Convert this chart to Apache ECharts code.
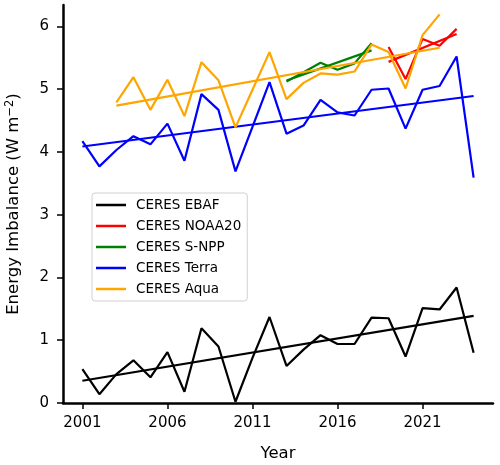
<!DOCTYPE html>
<html>
<head>
<meta charset="utf-8">
<script src="https://cdn.jsdelivr.net/npm/echarts@6/dist/echarts.min.js"></script>
<style>
  html, body { margin: 0; padding: 0; background: #fff; }
  #main { width: 500px; height: 465px; }
</style>
</head>
<body>
<div id="main"></div>
<script>
// values
const years = [2001, 2002, 2003, 2004, 2005, 2006, 2007, 2008, 2009, 2010, 2011, 2012,
  2013, 2014, 2015, 2016, 2017, 2018, 2019, 2020, 2021, 2022, 2023, 2024];
const ebaf = [0.54, 0.14, 0.46, 0.68, 0.41, 0.81, 0.18, 1.19, 0.90, 0.02, 0.72, 1.37,
  0.59, 0.85, 1.08, 0.94, 0.94, 1.36, 1.35, 0.74, 1.51, 1.49, 1.84, 0.80];
const terra = [4.17, 3.77, 4.03, 4.25, 4.12, 4.45, 3.86, 4.92, 4.67, 3.69, 4.40, 5.11,
  4.29, 4.42, 4.83, 4.63, 4.58, 4.99, 5.01, 4.37, 4.99, 5.05, 5.52, 3.59];
const aquaYears = [2003, 2004, 2005, 2006, 2007, 2008, 2009, 2010, 2011, 2012,
  2013, 2014, 2015, 2016, 2017, 2018, 2019, 2020, 2021, 2022];
const aqua = [4.79, 5.19, 4.67, 5.15, 4.57, 5.43, 5.14, 4.39, 4.99, 5.59,
  4.84, 5.10, 5.25, 5.23, 5.28, 5.71, 5.59, 5.01, 5.86, 6.19];
const snppYears = [2013, 2014, 2015, 2016, 2017, 2018];
const snpp = [5.12, 5.27, 5.42, 5.31, 5.41, 5.73];
const noaaYears = [2019, 2020, 2021, 2022, 2023];
const noaa20 = [5.67, 5.16, 5.80, 5.69, 5.96];

const xTicks = [2001, 2006, 2011, 2016, 2021];
const yTicks = [0, 1, 2, 3, 4, 5, 6];

const FONT = "DejaVu Sans";

function pairs(xs, ys) {
  return xs.map((x, i) => [x, ys[i]]);
}

// least squares trend, drawn between first and last year
function trend(xs, ys) {
  const n = xs.length;
  const mx = xs.reduce((a, b) => a + b, 0) / n;
  const my = ys.reduce((a, b) => a + b, 0) / n;
  let sxy = 0, sxx = 0;
  for (let i = 0; i < n; i++) {
    sxy += (xs[i] - mx) * (ys[i] - my);
    sxx += (xs[i] - mx) * (xs[i] - mx);
  }
  const k = sxy / sxx;
  return [[xs[0], my + k * (xs[0] - mx)], [xs[n - 1], my + k * (xs[n - 1] - mx)]];
}

function line(name, data, color) {
  return {
    name: name,
    type: "line",
    data: data,
    showSymbol: false,
    symbol: "none",
    color: color,
    lineStyle: { color: color, width: 2.2 },
    animation: false,
    silent: true,
  };
}

const myChart = echarts.init(document.getElementById("main"));
const option = {
  animation: false,
  grid: { left: 63, right: 7, top: 5, bottom: 62, outerBoundsMode: "none" },
  legend: {
    data: ["CERES EBAF", "CERES NOAA20", "CERES S-NPP", "CERES Terra", "CERES Aqua"],
    orient: "vertical",
    left: 92,
    top: 193,
    icon: "rect",
    itemWidth: 30,
    itemHeight: 2.5,
    itemGap: 7,
    padding: [5, 6, 5, 4],
    borderColor: "#d0d0d0",
    borderWidth: 1,
    borderRadius: 3,
    backgroundColor: "rgba(255,255,255,0.8)",
    textStyle: { fontFamily: FONT, fontSize: 13.5, color: "#000", padding: [0, 0, 0, 5] },
  },
  xAxis: {
    type: "value",
    min: 1999.86,
    max: 2025.14,
    name: "Year",
    nameLocation: "middle",
    nameGap: 42,
    nameTextStyle: { fontFamily: FONT, fontSize: 16.5, color: "#000" },
    splitLine: { show: false },
    axisLine: { onZero: false, lineStyle: { color: "#000", width: 2.5 } },
    axisTick: { show: true, length: 6, lineStyle: { color: "#000", width: 1.5 }, customValues: xTicks },
    axisLabel: {
      fontFamily: FONT, fontSize: 15, color: "#000", margin: 13, customValues: xTicks,
      formatter: (v) => String(v),
    },
  },
  yAxis: {
    type: "value",
    min: 0,
    max: 6.34,
    name: "{a|Energy Imbalance (W m}{s|−2}{a|)}",
    nameLocation: "middle",
    nameGap: 40,
    nameTextStyle: {
      fontFamily: FONT, fontSize: 16.5, color: "#000",
      rich: {
        a: { fontFamily: FONT, fontSize: 16.5, color: "#000" },
        s: { fontFamily: FONT, fontSize: 11.5, color: "#000", verticalAlign: "top", padding: [0, 0, 7, 0] },
      },
    },
    splitLine: { show: false },
    axisLine: { show: true, lineStyle: { color: "#000", width: 2.5 } },
    axisTick: { show: true, length: 6, lineStyle: { color: "#000", width: 1.5 }, customValues: yTicks },
    axisLabel: { fontFamily: FONT, fontSize: 15, color: "#000", margin: 14, customValues: yTicks },
  },
  series: [
    line("CERES EBAF", pairs(years, ebaf), "#000000"),
    line("EBAF trend", trend(years, ebaf), "#000000"),
    line("CERES NOAA20", pairs(noaaYears, noaa20), "#ff0000"),
    line("NOAA20 trend", trend(noaaYears, noaa20), "#ff0000"),
    line("CERES S-NPP", pairs(snppYears, snpp), "#008000"),
    line("S-NPP trend", trend(snppYears, snpp), "#008000"),
    line("CERES Terra", pairs(years, terra), "#0000ff"),
    line("Terra trend", trend(years, terra), "#0000ff"),
    line("CERES Aqua", pairs(aquaYears, aqua), "#ffa500"),
    line("Aqua trend", trend(aquaYears, aqua), "#ffa500"),
  ],
};
myChart.setOption(option);
</script>
</body>
</html>
